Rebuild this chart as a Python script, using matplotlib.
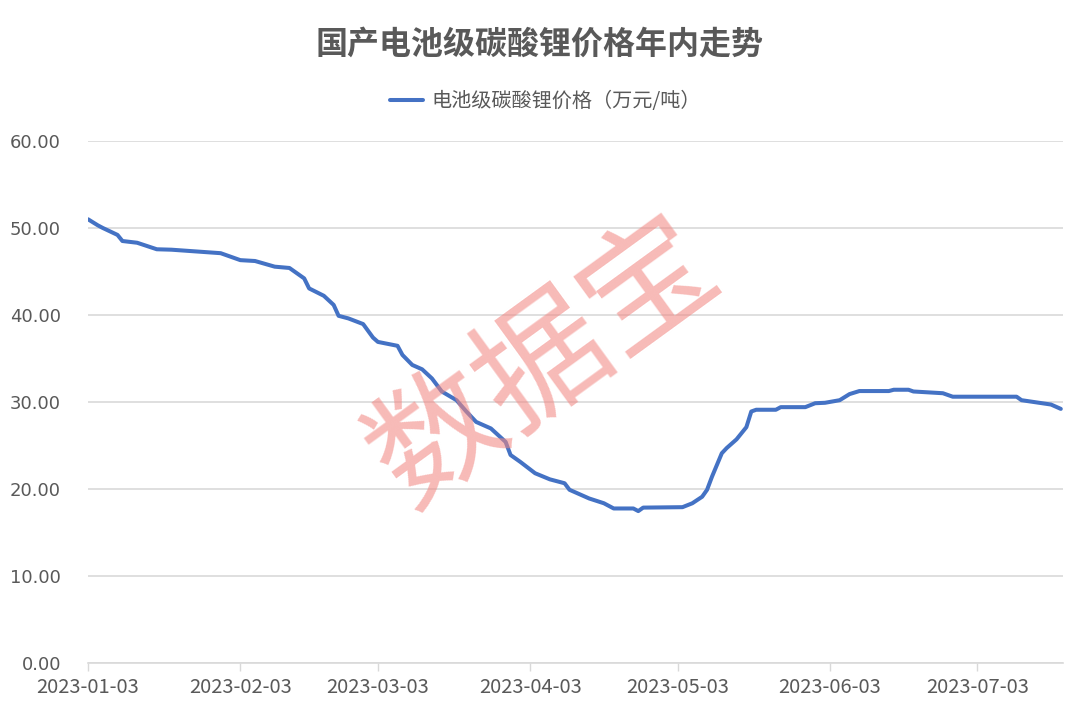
import matplotlib
matplotlib.use("Agg")
import matplotlib.pyplot as plt
import numpy as np
import pandas as pd

plt.rcParams['font.family'] = ['Noto Sans CJK SC', 'DejaVu Sans']

title = '国产电池级碳酸锂价格年内走势'
series_name = '电池级碳酸锂价格（万元/吨）'

dates = ['2023-01-03', '2023-01-05', '2023-01-06', '2023-01-09', '2023-01-10',
         '2023-01-13', '2023-01-17', '2023-01-20', '2023-01-30', '2023-02-03',
         '2023-02-06', '2023-02-10', '2023-02-13', '2023-02-16', '2023-02-17',
         '2023-02-20', '2023-02-22', '2023-02-23', '2023-02-25', '2023-02-28',
         '2023-03-02', '2023-03-03', '2023-03-07', '2023-03-08', '2023-03-10',
         '2023-03-12', '2023-03-14', '2023-03-16', '2023-03-19', '2023-03-21',
         '2023-03-23', '2023-03-26', '2023-03-29', '2023-03-30', '2023-04-01',
         '2023-04-04', '2023-04-07', '2023-04-10', '2023-04-11', '2023-04-15',
         '2023-04-18', '2023-04-20', '2023-04-24', '2023-04-25', '2023-04-26',
         '2023-05-04', '2023-05-06', '2023-05-08', '2023-05-09', '2023-05-10',
         '2023-05-12', '2023-05-13', '2023-05-15', '2023-05-17', '2023-05-18',
         '2023-05-19', '2023-05-23', '2023-05-24', '2023-05-29', '2023-05-31',
         '2023-06-02', '2023-06-05', '2023-06-07', '2023-06-09', '2023-06-15',
         '2023-06-16', '2023-06-19', '2023-06-20', '2023-06-26', '2023-06-28',
         '2023-07-11', '2023-07-12', '2023-07-18', '2023-07-20']
prices = [51.0, 50.3, 50.0, 49.2, 48.5,
          48.3, 47.55, 47.5, 47.1, 46.3,
          46.2, 45.55, 45.4, 44.2, 43.05,
          42.2, 41.15, 39.9, 39.6, 38.95,
          37.4, 36.9, 36.45, 35.4, 34.25,
          33.75, 32.7, 31.2, 30.2, 28.9,
          27.7, 26.95, 25.4, 23.9, 23.1,
          21.8, 21.1, 20.65, 19.9, 18.9,
          18.35, 17.75, 17.75, 17.45, 17.85,
          17.9, 18.35, 19.1, 19.9, 21.4,
          24.1, 24.7, 25.7, 27.1, 28.9,
          29.1, 29.1, 29.4, 29.4, 29.85,
          29.9, 30.2, 30.9, 31.25, 31.25,
          31.4, 31.4, 31.2, 31.0, 30.6,
          30.6, 30.2, 29.7, 29.2]
xtick_labels = ['2023-01-03', '2023-02-03', '2023-03-03', '2023-04-03',
                '2023-05-03', '2023-06-03', '2023-07-03']
yticks = [0, 10, 20, 30, 40, 50, 60]

x = pd.to_datetime(dates)
grey = '#595959'

fig = plt.figure(figsize=(10.8, 7.12), dpi=100)
ax = fig.add_axes([0.0815, 0.069, 0.903, 0.733])

ax.plot(x, prices, color='#4472C4', linewidth=2.9, label=series_name,
        solid_joinstyle='round', solid_capstyle='round')

ax.set_ylim(0, 60)
ax.set_xlim(pd.Timestamp('2023-01-03'), pd.Timestamp('2023-07-20 12:00'))
ax.set_yticks(yticks)
ax.set_yticklabels([f'{v:.2f}' for v in yticks], family='DejaVu Sans')
ax.set_xticks(pd.to_datetime(xtick_labels))
ax.set_xticklabels(xtick_labels)

ax.grid(axis='y', color='#d9d9d9', linewidth=1.2)
ax.set_axisbelow(True)
for s in ['top', 'right', 'left']:
    ax.spines[s].set_visible(False)
ax.spines['bottom'].set_color('#d9d9d9')
ax.spines['bottom'].set_linewidth(1.2)
ax.tick_params(axis='y', length=0, pad=19.5, labelsize=13, labelcolor=grey)
ax.tick_params(axis='x', length=6, width=1.0, color='#d9d9d9', pad=4,
               labelsize=14.5, labelcolor=grey)

fig.text(0.5, 0.937, title, ha='center', va='center', fontsize=23,
         fontweight='bold', color=grey)
leg = fig.legend(loc='center', bbox_to_anchor=(0.505, 0.858), frameon=False,
                 fontsize=14.5, handlelength=1.65, handletextpad=0.4)
for t in leg.get_texts():
    t.set_color(grey)

# watermark
fig.text(0.505, 0.49, '数据宝', ha='center', va='center', fontsize=94,
         rotation=36, color='#f28883', alpha=0.58, zorder=10)

fig.savefig('out.png', dpi=100)
